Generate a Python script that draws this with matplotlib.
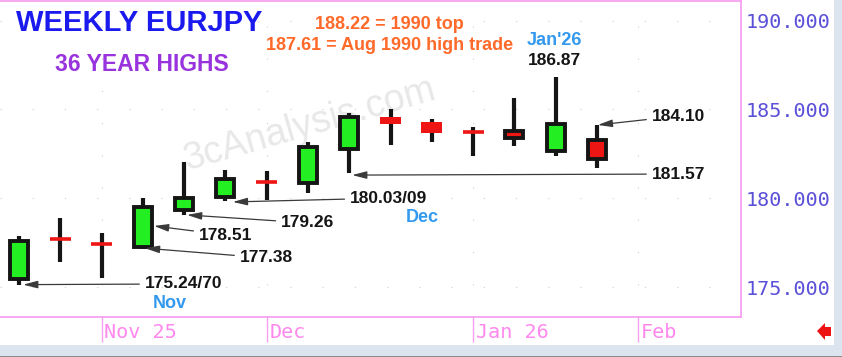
import matplotlib
matplotlib.use("Agg")
import matplotlib.pyplot as plt
import matplotlib.transforms as mtransforms
from matplotlib.patches import Rectangle, Polygon
import numpy as np

# weekly candles, Oct 20 2025 .. Jan 26 2026
opens  = [175.45, 177.75, 177.47, 177.25, 179.33, 180.06, 180.93, 180.84,
          182.75, 184.60, 184.27, 183.73, 183.78, 182.64, 183.31]
highs  = [177.87, 178.88, 178.03, 180.00, 182.02, 181.57, 181.52, 183.15,
          184.78, 185.00, 184.49, 184.04, 185.62, 186.80, 184.10]
lows   = [175.11, 176.40, 175.51, 177.13, 179.04, 179.83, 179.89, 180.28,
          181.40, 183.03, 183.15, 182.36, 182.92, 182.36, 181.69]
closes = [177.60, 177.70, 177.43, 179.49, 180.00, 181.07, 180.88, 182.87,
          184.55, 184.21, 183.65, 183.69, 183.42, 184.16, 182.19]
# red bodies drawn with a black frame
framed = [12, 14]

tick_pos = [2, 6, 11, 15]
tick_labels = ["Nov 25", "Dec", "Jan 26", "Feb"]
yticks = [175, 180, 185, 190]

# (text, arrow tip x, tip y, text x, text y)
notes = [
    ("175.24/70", 0.10, 175.15, 3.05, 175.19),
    ("177.38", 3.05, 177.20, 5.35, 176.65),
    ("178.51", 3.27, 178.45, 4.36, 177.94),
    ("179.26", 4.07, 179.07, 6.35, 178.62),
    ("180.03/09", 5.18, 179.80, 8.02, 180.02),
    ("181.57", 8.07, 181.31, 15.33, 181.37),
    ("184.10", 14.02, 184.13, 15.33, 184.63),
]

GREEN = "#22ee22"
RED = "#ee1515"
PINK = "#f7a0f0"
DARK = "#151515"

fig = plt.figure(figsize=(8.42, 3.57), dpi=100)
fig.patch.set_facecolor("white")
ax = fig.add_axes([0, 40 / 357, 741 / 842, 316 / 357])
ax.set_xlim(-0.46, 17.49)
ax.set_ylim(173.33, 191.1)

# bottom / right frame bands
fig.patches.append(Rectangle((0, 0), 1, 12 / 357, transform=fig.transFigure,
                             fc="#dce4ef", ec="none", zorder=0))
fig.patches.append(Rectangle((834 / 842, 0), 8 / 842, 1, transform=fig.transFigure,
                             fc="#dce4ef", ec="none", zorder=0))
fig.patches.append(Rectangle((0, 0), 1, 1.5 / 357, transform=fig.transFigure,
                             fc="#8a8a8a", ec="none", zorder=0))
arrow_px = [(817, 331), (825, 323), (825, 327), (831, 327), (831, 336), (825, 336), (825, 340)]
fig.patches.append(Polygon([(x / 842, 1 - y / 357) for x, y in arrow_px],
                           transform=fig.transFigure, fc="#ee1111", ec="none"))

# watermark
ax.text(0.418, 0.608, "3cAnalysis.com", transform=ax.transAxes, rotation=16,
        fontsize=27, color="#e8e8e8", family="Liberation Sans",
        ha="center", va="center", zorder=0)

x = np.arange(len(opens))
for i in x:
    o, h, l, c = opens[i], highs[i], lows[i], closes[i]
    ax.vlines(i, l, h, color=DARK, lw=3.0, zorder=2)
    up = c > o
    if up or i in framed:
        ax.add_patch(Rectangle((i - 0.22, min(o, c)), 0.44, abs(c - o),
                               fc=GREEN if up else RED, ec=DARK, lw=2.8, zorder=3))
    elif abs(c - o) < 0.1:
        ax.hlines((o + c) / 2, i - 0.255, i + 0.255, color=RED, lw=2.6, zorder=3)
    else:
        ax.add_patch(Rectangle((i - 0.255, min(o, c)), 0.51, abs(c - o),
                               fc=RED, ec="none", zorder=3))

for txt, tx, ty, lx, ly in notes:
    ax.annotate(txt, xy=(tx, ty), xytext=(lx, ly), ha="left", va="center",
                fontsize=12.5, fontweight="bold", color=DARK, family="Liberation Sans",
                arrowprops=dict(arrowstyle="-|>,head_length=0.7,head_width=0.18",
                                color="#3a3a3a", lw=0.9, shrinkA=2, shrinkB=0))

ax.text(12.98, 187.78, "186.87", ha="center", va="center", fontsize=12.5,
        fontweight="bold", color=DARK, family="Liberation Sans")
ax.text(12.98, 188.9, "Jan'26", ha="center", va="center", fontsize=13,
        fontweight="bold", color="#3399ee", family="Liberation Sans")
ax.text(9.37, 178.95, "Dec", ha="left", va="center", fontsize=13,
        fontweight="bold", color="#3399ee", family="Liberation Sans")
ax.text(3.25, 174.07, "Nov", ha="left", va="center", fontsize=13,
        fontweight="bold", color="#3399ee", family="Liberation Sans")
ax.text(8.98, 189.8, "188.22 = 1990 top", ha="center", va="center", fontsize=13,
        fontweight="bold", color="#ff6a2a", family="Liberation Sans")
ax.text(8.98, 188.62, "187.61 = Aug 1990 high trade", ha="center", va="center",
        fontsize=13, fontweight="bold", color="#ff6a2a", family="Liberation Sans")

ax.text(0.0216, 0.93, "WEEKLY EURJPY", transform=ax.transAxes, ha="left", va="center",
        fontsize=21, fontweight="bold", color="#1a1aee", family="Liberation Sans")
ax.text(0.0742, 0.80, "36 YEAR HIGHS", transform=ax.transAxes, ha="left", va="center",
        fontsize=16.5, fontweight="bold", color="#9933dd", family="Liberation Sans")

# axes styling
for side in ["top", "right", "bottom"]:
    ax.spines[side].set_color(PINK)
    ax.spines[side].set_linewidth(1.3)
ax.spines["left"].set_visible(False)

ax.yaxis.tick_right()
ax.set_yticks(yticks)
ax.set_yticklabels([f"{v:.3f}" for v in yticks])
ax.tick_params(axis="y", length=0, pad=3, labelsize=14.5, labelcolor="#5b50d8")
for lab in ax.get_yticklabels():
    lab.set_family("DejaVu Sans Mono")

ax.set_xticks(tick_pos)
ax.set_xticklabels(tick_labels, ha="left")
ax.tick_params(axis="x", length=18, width=1, color=PINK, pad=-14,
               labelsize=14.5, labelcolor="#ff88ee")
offset = mtransforms.ScaledTranslation(2 / 72, 0, fig.dpi_scale_trans)
for lab in ax.get_xticklabels():
    lab.set_family("DejaVu Sans Mono")
    lab.set_transform(lab.get_transform() + offset)

ax.grid(True, color="#cfcfcf", lw=0.8, linestyle=(0, (1, 28)))
ax.set_axisbelow(True)

fig.savefig("out.png", dpi=100)
